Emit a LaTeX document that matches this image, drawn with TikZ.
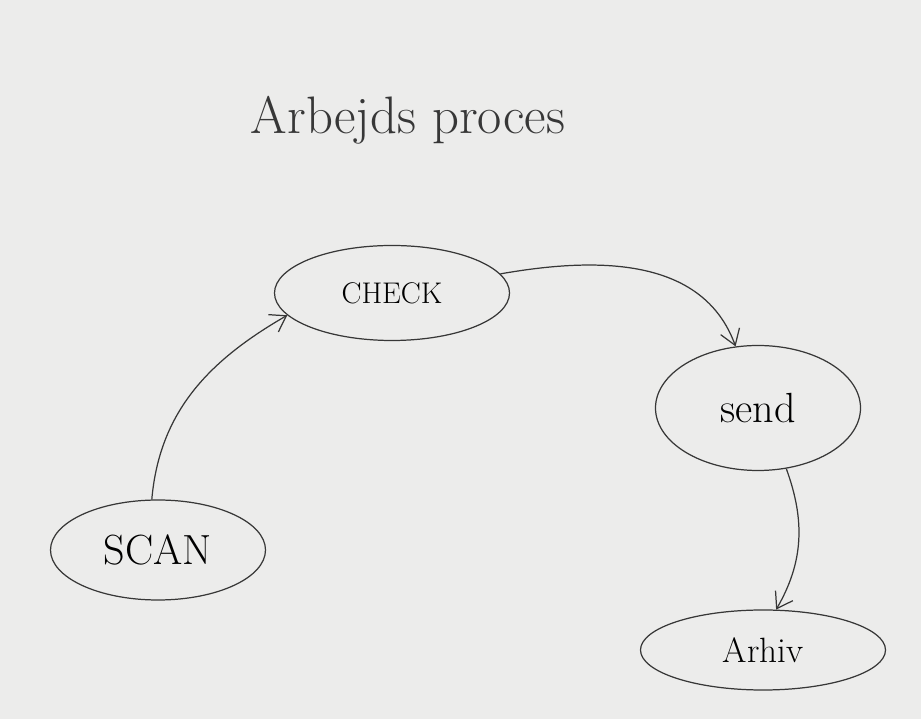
\documentclass[tikz,border=0pt]{standalone}
\usepackage{tikz}
\usetikzlibrary{shapes.geometric, arrows.meta}
\definecolor{papier}{RGB}{236, 236, 235}
\definecolor{crayon}{RGB}{55, 55, 55}

\tikzset{
    etape/.style={ellipse, draw=crayon, line width=0.7pt, inner sep=0pt},
    fleche/.style={crayon, line width=0.7pt, -{Straight Barb[length=3mm, width=4mm]}}
}

\begin{document}
\begin{tikzpicture}
    % Fond (feuille)
    \fill[papier] (0,0) rectangle (18.42,14.38) ;
    \useasboundingbox (0,0) rectangle (18.42,14.38) ;

    % Titre
    \node[crayon] (titre) at (8.16, 11.98) {\fontsize{30}{34}\selectfont Arbejds proces} ;

    % Etapes du processus
    \node[etape, minimum width=4.7cm, minimum height=1.9cm] (check) at (7.84, 8.52) {\fontsize{17}{20}\selectfont CHECK} ;
    \node[etape, minimum width=4.1cm, minimum height=2.5cm] (send) at (15.16, 6.22) {\fontsize{24}{28}\selectfont send} ;
    \node[etape, minimum width=4.3cm, minimum height=2.0cm] (scan) at (3.16, 3.38) {\fontsize{24}{28}\selectfont SCAN} ;
    \node[etape, minimum width=4.9cm, minimum height=1.6cm] (arhiv) at (15.26, 1.38) {\fontsize{20}{24}\selectfont Arhiv} ;

    % Fleches entre les etapes
    \draw[fleche] (scan.97) to[out=85, in=210] (check.192) ;
    \draw[fleche] (check.10) to[out=10, in=110] (send.110) ;
    \draw[fleche] (send.295) to[out=-70, in=60] (arhiv.72) ;
\end{tikzpicture}
\end{document}
